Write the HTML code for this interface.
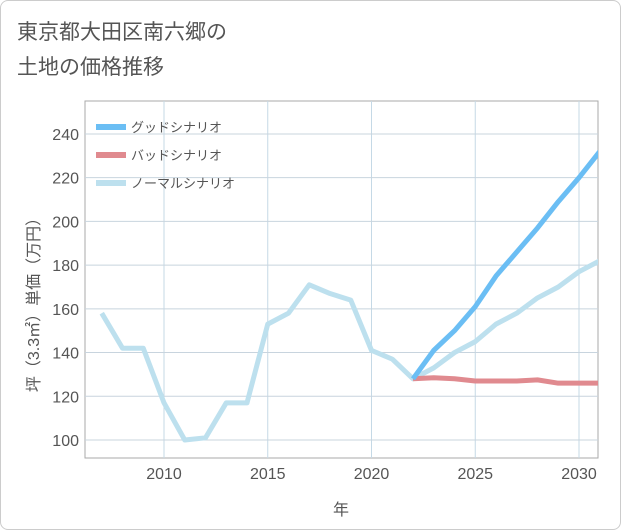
<!DOCTYPE html>
<html><head><meta charset="utf-8"><style>
body{margin:0;background:#fff;}
#wrap{position:relative;width:619px;height:528px;border:1px solid #ccc;border-radius:8px;overflow:hidden;font-family:"Liberation Sans","Noto Sans CJK JP",sans-serif;}
#title{position:absolute;left:16px;top:14px;font-size:21px;line-height:35px;color:#555;}
</style></head><body>
<div id="wrap">
<div id="title">東京都大田区南六郷の<br>土地の価格推移</div>
<svg id="chart" width="621" height="530" style="position:absolute;left:0;top:0"></svg>
</div>
<script>
const yearsNormal=[2007,2008,2009,2010,2011,2012,2013,2014,2015,2016,2017,2018,2019,2020,2021,2022,2023,2024,2025,2026,2027,2028,2029,2030,2031];
const valuesNormal=[158,142,142,117,100,101,117,117,153,158,171,167,164,141,137,128,133,140,145,153,158,165,170,177,182];
const yearsForecast=[2022,2023,2024,2025,2026,2027,2028,2029,2030,2031];
const valuesGood=[128,141,150,161,175,186,197,209,220,232];
const valuesBad=[128,128.5,128,127,127,127,127.5,126,126,126];
const xTicks=[2010,2015,2020,2025,2030];
const yTicks=[100,120,140,160,180,200,220,240];
const legendLabels=["グッドシナリオ","バッドシナリオ","ノーマルシナリオ"];
const NS="http://www.w3.org/2000/svg";
const svg=document.getElementById('chart');
const L=84,R=597,T=100,B=457;
const x=v=>163+(v-2010)*20.75;
const y=v=>439-(v-100)*2.186;
function el(t,a,p){const e=document.createElementNS(NS,t);for(const k in a)e.setAttribute(k,a[k]);(p||svg).appendChild(e);return e;}
const bg=el('rect',{x:L,y:T,width:R-L,height:B-T,fill:'#fff',stroke:'#aaa'});


xTicks.forEach(t=>{const g=el('line',{x1:x(t),x2:x(t),y1:T,y2:B,stroke:'#c5d9e6'});


const tx=el('text',{x:x(t),y:478,'text-anchor':'middle','font-size':16,fill:'#555'});tx.textContent=t;

});
yTicks.forEach(t=>{const g=el('line',{x1:L,x2:R,y1:y(t),y2:y(t),stroke:'#c8d4de'});


const tx=el('text',{x:78,y:y(t)+6,'text-anchor':'end','font-size':16,fill:'#555'});tx.textContent=t;

});
const xt=el('text',{x:340,y:514,'text-anchor':'middle','font-size':16,fill:'#555'});xt.textContent='年';


const yt=el('text',{x:0,y:0,'text-anchor':'middle','font-size':16,fill:'#555',transform:'translate(38,300) rotate(-90)'});yt.textContent='坪（3.3㎡）単価（万円）';


const cp=el('clipPath',{id:'cp'});el('rect',{x:L,y:T,width:R-L,height:B-T},cp);
function line(xs,vs,c,name){const p=el('polyline',{points:xs.map((a,i)=>x(a)+','+y(vs[i])).join(' '),fill:'none',stroke:c,'stroke-width':5,'stroke-linejoin':'round','clip-path':'url(#cp)'});

}
line(yearsNormal,valuesNormal,'#bde0ee','normal-scenario-line');
line(yearsForecast,valuesBad,'#e08a8f','bad-scenario-line');
line(yearsForecast,valuesGood,'#6bbef4','good-scenario-line');
const lc=['#6bbef4','#e08a8f','#bde0ee'];
legendLabels.forEach((s,i)=>{const yy=126+i*28;
const g=el('g',{});


el('line',{x1:95,x2:125,y1:yy,y2:yy,stroke:lc[i],'stroke-width':6},g);
const t=el('text',{x:130,y:yy+5,'font-size':13,fill:'#555'},g);t.textContent=s;});
</script>
</body></html>
